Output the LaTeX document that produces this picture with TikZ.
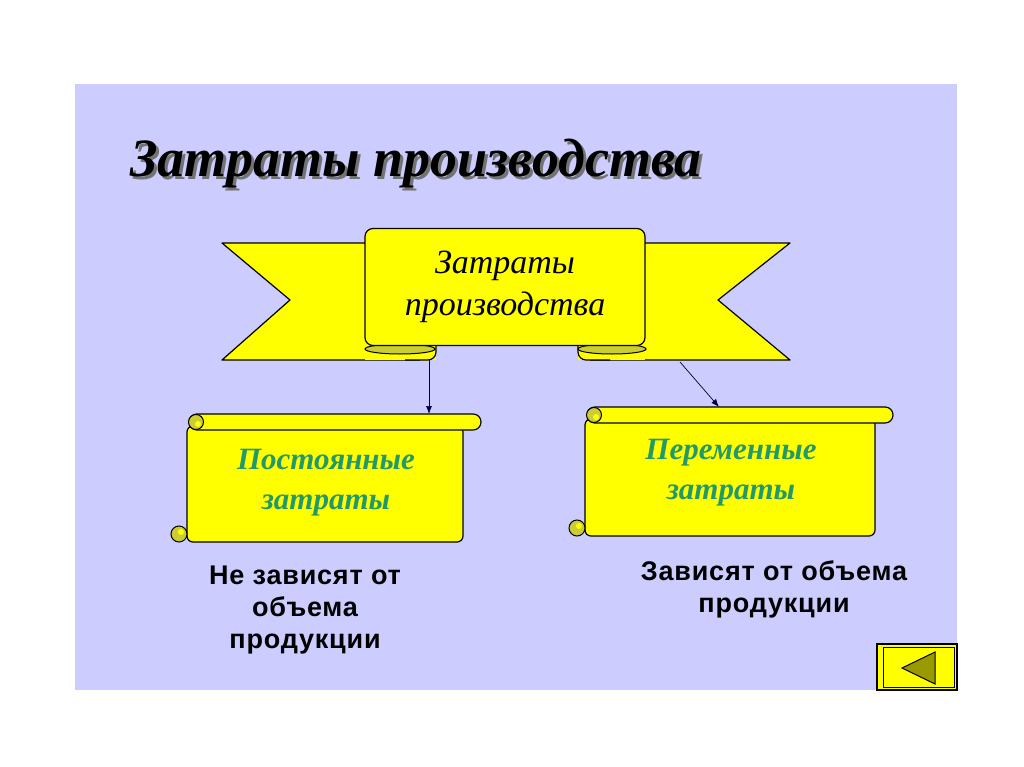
\documentclass[tikz,border=0pt]{standalone}
\usepackage{fontspec}
\setmainfont{Liberation Serif}
\newfontfamily\notefont[LetterSpace=3]{Liberation Sans}
\usetikzlibrary{arrows.meta}
\definecolor{panel}{RGB}{204,204,255}
\definecolor{ribbon}{RGB}{255,255,0}
\definecolor{fold}{RGB}{204,204,51}
\definecolor{scrollgreen}{RGB}{34,153,102}
\definecolor{btnarrow}{RGB}{153,153,0}

% scroll: left, top, right, bottom
\newcommand{\drawscroll}[4]{%
  \filldraw[rib,rounded corners=6pt] ({#1},{#2+12}) rectangle ({#3-18},{#4});
  \filldraw[rib,rounded corners=7.9pt] ({#1+2},{#2}) rectangle ({#3},{#2+16});
  \filldraw[curl] ({#1+9},{#2+8}) circle (7.5);
  \fill[ribbon] ({#1+11},{#2+10}) circle (3);
  \filldraw[curl] ({#1-8},{#4-8}) circle (8);
  \fill[ribbon] ({#1-6},{#4-10}) circle (3);
}
% text with a grey shadow behind it
\newcommand{\shadowtext}[1]{%
  \makebox[0pt][l]{\hspace{3pt}\raisebox{-3pt}{\textcolor{black!55}{#1}}}#1}

\begin{document}
\begin{tikzpicture}[x=1pt,y=-1pt]
  \tikzset{ribline/.style = {draw=black,line width=1.2pt,line join=round}}
  \tikzset{rib/.style = {ribline,fill=ribbon}}
  \tikzset{curl/.style = {fill=fold,draw=black,line width=1pt}}
  \tikzset{link/.style = {draw=black!75!blue,line width=0.7pt,-{Latex[length=8pt,width=6pt]}}}
  \tikzset{scrolltxt/.style = {align=center,text=scrollgreen,font=\fontsize{31}{40}\selectfont\bfseries\itshape}}
  \tikzset{note/.style = {align=center,font=\notefont\fontsize{27}{32}\selectfont\bfseries}}
  \tikzset{titletxt/.style = {font=\fontsize{54}{60}\selectfont\bfseries\itshape}}
  \useasboundingbox (0,0) rectangle (1024,767);
  \fill[white] (0,0) rectangle (1024,767);
  \fill[panel] (75,84) rectangle (957,690);

  % title
  \node[titletxt] (title) at (416,165) {\shadowtext{Затраты производства}};

  % ribbon wings
  \fill[ribbon] (380,243) -- (222,243) -- (290,300) -- (222,360) -- (430,360) -- (430,300) -- cycle;
  \draw[ribline] (380,243) -- (222,243) -- (290,300) -- (222,360) -- (420,360);
  \fill[ribbon] (630,243) -- (790,243) -- (718,300) -- (790,360) -- (585,360) -- (630,300) -- cycle;
  \draw[ribline] (630,243) -- (790,243) -- (718,300) -- (790,360) -- (590,360);

  % folds
  \fill[ribbon] (365,340) rectangle (436,360);
  \draw[ribline,rounded corners=8pt] (436,340) -- (436,360) -- (405,360);
  \filldraw[curl] (400,349) ellipse [x radius=35, y radius=5];
  \fill[ribbon] (578,340) rectangle (645,360);
  \draw[ribline,rounded corners=8pt] (578,340) -- (578,360) -- (610,360);
  \filldraw[curl] (612,349) ellipse [x radius=34, y radius=5];

  % centre of the ribbon
  \node[rib,rounded corners=8pt,minimum width=280,minimum height=117,align=center,
        font=\fontsize{34}{42}\selectfont\itshape] (costs) at (505,287) {Затраты\\производства};

  % scrolls
  \drawscroll{187}{414}{481}{542}
  \drawscroll{585}{407}{893}{536}
  \node[scrolltxt] (fixed) at (326,483) {Постоянные\\затраты};
  \node[scrolltxt] (variable) at (731,473) {Переменные\\затраты};

  % links
  \coordinate (lfold) at (429,360);
  \coordinate (rfold) at (680,362);
  \coordinate (ltop) at (429,414);
  \coordinate (rtop) at (719,407);
  \draw[link] (lfold) -- (ltop);
  \draw[link] (rfold) -- (rtop);

  % notes
  \node[note] (fixednote) at (305,610) {Не зависят от\\объема\\продукции};
  \node[note] (varnote) at (774,589) {Зависят от объема\\продукции};

  % back button
  \filldraw[fill=ribbon,draw=black,line width=1.2pt] (877,644) rectangle (957,690);
  \draw[black,line width=0.8pt] (883,647) rectangle (954,687);
  \filldraw[fill=btnarrow,draw=black,line width=1pt] (902,668) -- (935,652) -- (935,684) -- cycle;
\end{tikzpicture}
\end{document}
